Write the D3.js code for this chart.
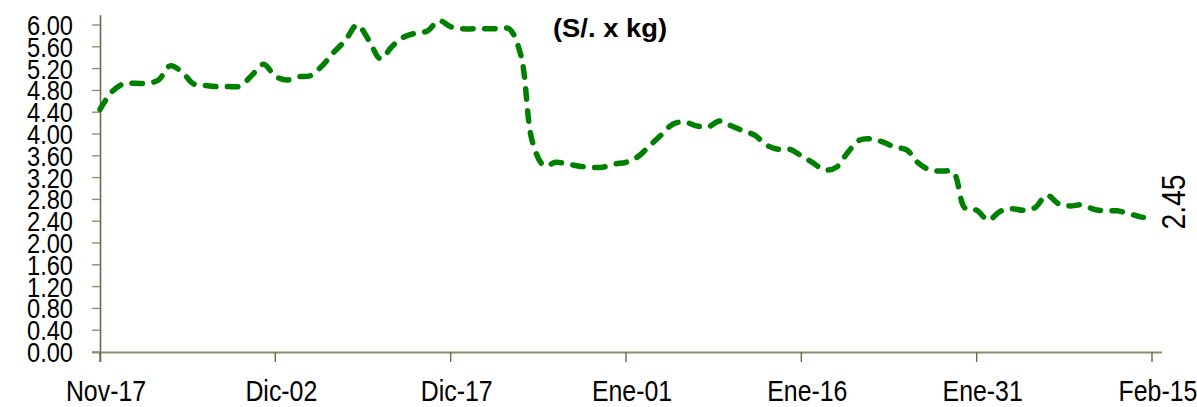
<!DOCTYPE html>
<html>
<head>
<meta charset="utf-8">
<script src="https://cdn.jsdelivr.net/npm/d3@7"></script>
<style>
  html, body { margin: 0; padding: 0; background: #fff; }
  svg { display: block; }
  text { font-family: "Liberation Sans", Arial, sans-serif; fill: #000; }
</style>
</head>
<body>
<svg id="chart" width="1197" height="407"></svg>
<script>
// ---- data ----
const startDate = new Date(2019, 10, 17);   // Nov-17
const endDate = new Date(2020, 1, 15);      // Feb-15
const prices = [
  4.45, 4.77, 4.92, 4.93, 4.93, 4.99, 5.25, 5.14, 4.92, 4.89,
  4.87, 4.87, 4.88, 5.08, 5.28, 5.06, 4.99, 5.05, 5.07, 5.25,
  5.50, 5.72, 6.00, 5.72, 5.38, 5.61, 5.78, 5.85, 5.89, 6.08,
  5.97, 5.93, 5.93, 5.93, 5.93, 5.93, 5.45, 3.85, 3.42, 3.48,
  3.45, 3.41, 3.39, 3.39, 3.45, 3.48, 3.58, 3.78, 3.98, 4.18,
  4.22, 4.15, 4.13, 4.24, 4.15, 4.06, 3.98, 3.80, 3.72, 3.72,
  3.60, 3.47, 3.34, 3.39, 3.67, 3.89, 3.91, 3.85, 3.76, 3.71,
  3.47, 3.34, 3.32, 3.30, 2.64, 2.60, 2.42, 2.58, 2.63, 2.60,
  2.65, 2.88, 2.72, 2.68, 2.70, 2.62, 2.59, 2.59, 2.54, 2.48,
  2.45
];
const dates = d3.timeDay.range(startDate, d3.timeDay.offset(endDate, 1));
const xTickDates = [
  new Date(2019, 10, 17), new Date(2019, 11, 2), new Date(2019, 11, 17),
  new Date(2020, 0, 1), new Date(2020, 0, 16), new Date(2020, 0, 31), new Date(2020, 1, 15)
];
const xTickLabels = ["Nov-17", "Dic-02", "Dic-17", "Ene-01", "Ene-16", "Ene-31", "Feb-15"];
const yTickValues = d3.range(0, 16).map(i => +(i * 0.4).toFixed(2));
const titleText = "(S/. x kg)";
const lastLabel = "2.45";

// ---- chart ----
const svg = d3.select("#chart");
const x = d3.scaleTime().domain([startDate, endDate]).range([100, 1152]);
const y = d3.scaleLinear().domain([0, 6]).range([352, 25]);

const axisColor = "#8e8e70";
const tickColor = "#6a6a4a";

// y axis line
svg.append("line")
  .attr("x1", 100.5).attr("x2", 100.5)
  .attr("y1", y(6.18)).attr("y2", 362)
  .attr("stroke", tickColor).attr("stroke-width", 1.6);

// x axis line
svg.append("line")
  .attr("x1", 92).attr("x2", 1162)
  .attr("y1", 352.5).attr("y2", 352.5)
  .attr("stroke", axisColor).attr("stroke-width", 2.2);

// y ticks + labels
const yT = svg.append("g");
yTickValues.forEach(v => {
  yT.append("line")
    .attr("x1", 92).attr("x2", 100)
    .attr("y1", y(v)).attr("y2", y(v))
    .attr("stroke", axisColor).attr("stroke-width", 1.4);
  yT.append("text")
    .attr("transform", `translate(73,${y(v)}) scale(0.845,1)`)
    .attr("dy", "0.36em")
    .attr("text-anchor", "end")
    .attr("font-size", 28)
    .text(d3.format(".2f")(v));
});

// x ticks + labels
const xT = svg.append("g");
xTickDates.forEach((d, i) => {
  xT.append("line")
    .attr("x1", x(d)).attr("x2", x(d))
    .attr("y1", 352).attr("y2", 362)
    .attr("stroke", tickColor).attr("stroke-width", 1.4);
  xT.append("text")
    .attr("transform", `translate(${x(d) + 6},401) scale(0.83,1)`)
    .attr("text-anchor", "middle")
    .attr("font-size", 30)
    .text(xTickLabels[i]);
});

// line
const line = d3.line()
  .x((d, i) => x(dates[i]))
  .y(d => y(d))
  .curve(d3.curveCatmullRom.alpha(0.5));

svg.append("path")
  .datum(prices)
  .attr("d", line)
  .attr("fill", "none")
  .attr("stroke", "#008000")
  .attr("stroke-width", 5.5)
  .attr("stroke-linecap", "round")
  .attr("stroke-dasharray", "10.5,11.5");

// title
svg.append("text")
  .attr("x", 610).attr("y", 37)
  .attr("text-anchor", "middle")
  .attr("font-size", 26)
  .attr("font-weight", "bold")
  .attr("textLength", 114)
  .attr("lengthAdjust", "spacingAndGlyphs")
  .text(titleText);

// last value label (rotated)
svg.append("text")
  .attr("transform", `translate(1185,${y(prices[prices.length - 1]) + 11}) rotate(-90)`)
  .attr("text-anchor", "start")
  .attr("font-size", 34)
  .attr("textLength", 55)
  .attr("lengthAdjust", "spacingAndGlyphs")
  .text(lastLabel);
</script>
</body>
</html>
